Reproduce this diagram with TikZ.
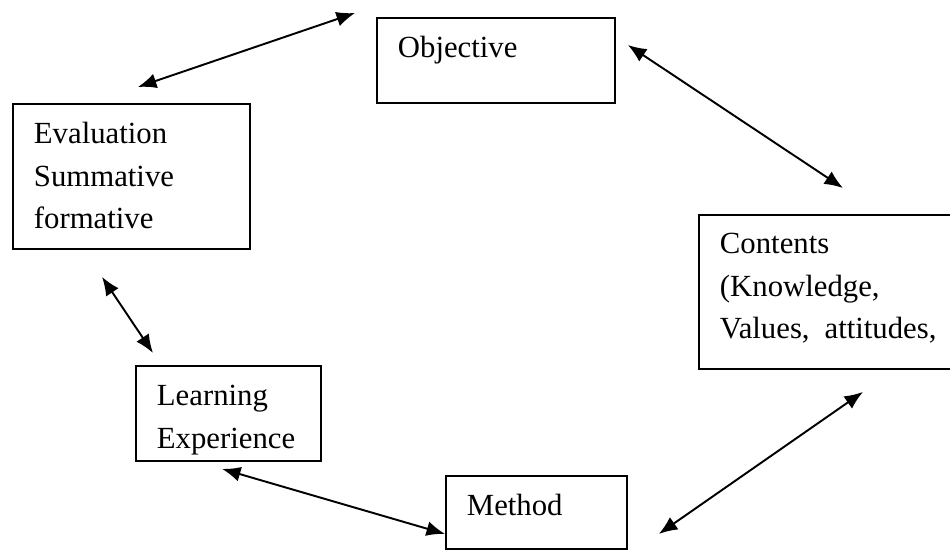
\documentclass[tikz,border=0pt]{standalone}
\usepackage{fontspec}
\setmainfont{Liberation Serif}
\usetikzlibrary{arrows.meta,calc}

\begin{document}
\begin{tikzpicture}[x=0.02cm, y=-0.02cm,
    stage/.style ={draw, line width=1.1pt, anchor=north west, align=left,
      inner xsep=0.42cm, inner ysep=0pt, text height=0.8cm,
      font=\fontsize{17.5}{24}\selectfont},
    link/.style ={line width=1.1pt,
      {Latex[length=0.37cm,width=0.3cm]}-{Latex[length=0.37cm,width=0.3cm]}}]
   \useasboundingbox (0,0) rectangle (950,550);

   \node[stage, text width=3.92cm, text depth=0.9cm] (obj) at (376,17) {Objective};
   \node[stage, text width=3.90cm, text depth=2.1cm] (eval) at (12,103)
      {Evaluation\\Summative\\formative};
   \node[stage, text width=5.0cm, text height=0.78cm, text depth=2.3cm] (cont) at (698,214)
      {Contents\\(Knowledge,\\Values,\hspace{0.3cm}attitudes,};
   \node[stage, text width=2.86cm, text depth=1.1cm] (learn) at (135,365)
      {Learning\\Experience};
   \node[stage, text width=2.78cm, text depth=0.66cm] (meth) at (445,475) {Method};

   \draw[link] ($(eval.north)+(6.5,-16)$) to ($(obj.north west)+(-21,-4)$);
   \draw[link] ($(obj.north east)+(12,28)$) to ($(cont.north west)+(145,-26)$);
   \draw[link] ($(eval.south west)+(90,27)$) to ($(learn.north west)+(18,-12)$);
   \draw[link] ($(learn.south west)+(87,7)$) to ($(meth.south west)+(0,-16)$);
   \draw[link] ($(meth.south east)+(31,-16)$) to ($(cont.south west)+(165,22)$);
\end{tikzpicture}
\end{document}
